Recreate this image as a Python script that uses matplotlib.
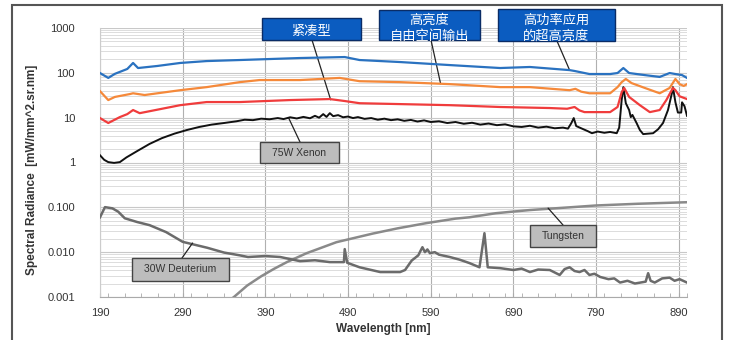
import numpy as np
import matplotlib
matplotlib.use("Agg")
import matplotlib.pyplot as plt
from matplotlib.patches import Rectangle
from matplotlib.ticker import LogLocator, MultipleLocator, NullFormatter

plt.rcParams['font.family'] = ['Liberation Sans', 'Noto Sans CJK SC', 'DejaVu Sans']

# ---- data (wavelength nm, radiance mW/mm^2.sr.nm) ----
wl_blue = [190, 200, 208, 223, 230, 236, 259, 287, 319, 359, 432, 486, 504, 553, 613, 674,
           710, 758, 764, 782, 807, 816, 823, 830, 849, 867, 879, 886, 894, 900]
v_blue = [99, 77, 95, 122, 166, 128, 142, 166, 183, 193, 214, 225, 193, 174, 149, 128,
          135, 115, 110, 94, 94, 99, 128, 99, 89, 81, 99, 94, 89, 77]

wl_orange = [190, 200, 208, 226, 230, 244, 287, 319, 359, 383, 432, 480, 504, 553, 613, 674,
             710, 758, 765, 772, 782, 807, 816, 821, 826, 833, 849, 867, 879, 886, 891, 896, 900]
v_orange = [39, 24.7, 29, 33.6, 35, 32, 41, 48, 62, 69, 69, 77, 65, 62, 56, 48,
            48, 41, 44, 38, 35, 35, 48, 62, 73, 59, 46, 35, 46, 73, 56, 51, 56]

wl_red = [190, 200, 214, 223, 230, 238, 287, 319, 359, 420, 468, 486, 504, 613, 674, 734,
          755, 764, 770, 776, 807, 816, 821, 824, 830, 843, 855, 867, 875, 883, 886, 891, 900]
v_red = [9.8, 7.6, 10.3, 12, 14.8, 12.6, 19, 22.3, 22.3, 24.7, 26, 23.5, 21, 19, 17.3, 16.4,
         15.8, 17.3, 14.5, 13.3, 13.3, 17.3, 37, 46, 29, 19, 13.3, 14.8, 24.7, 46, 41, 30, 26]

wl_xenon = [190, 195, 200, 207, 214, 222, 235, 250, 265, 280, 295, 310, 325, 340, 355, 365,
            375, 385, 395, 405, 412, 420, 428, 436, 444, 450, 455, 460, 464, 468, 472, 478,
            484, 490, 496, 502, 510, 518, 526, 534, 542, 550, 558, 566, 574, 582, 590, 600,
            610, 620, 630, 640, 650, 660, 670, 680, 690, 700, 710, 720, 730, 740, 750, 756,
            760, 763, 766, 772, 780, 785, 792, 800, 807, 815, 818, 821, 823, 826, 830, 832,
            834, 839, 843, 847, 853, 859, 865, 871, 877, 882, 883, 886, 889, 893, 894, 897, 900]
v_xenon = [1.45, 1.15, 1.02, 0.98, 1.02, 1.3, 1.8, 2.6, 3.5, 4.4, 5.3, 6.2, 7.0, 7.6, 8.3, 9.0,
           8.8, 9.5, 9.2, 9.8, 9.3, 10.2, 9.6, 10.4, 9.7, 11.0, 10.0, 12.0, 10.4, 12.6, 10.8, 11.4,
           10.2, 10.6, 9.8, 10.3, 9.4, 9.8, 9.0, 9.5, 8.8, 9.2, 8.5, 8.9, 8.2, 8.7, 8.0, 8.3,
           7.6, 8.0, 7.3, 7.7, 7.0, 7.4, 6.8, 7.1, 6.4, 6.2, 6.6, 6.0, 6.3, 5.8, 6.0, 5.7,
           7.5, 9.8, 6.5, 5.8, 5.0, 4.5, 4.9, 4.6, 4.8, 4.5, 6.0, 25, 48, 21, 14.8, 10.3,
           11.5, 7.6, 5.3, 4.3, 4.4, 4.5, 5.5, 7.6, 14.8, 37, 48, 22, 13, 13, 22, 18, 11]

wl_deut = [190, 196, 205, 212, 220, 235, 250, 270, 290, 320, 340, 359, 369, 390, 408, 432,
           450, 468, 485, 486, 489, 504, 529, 553, 559, 567, 575, 578, 580, 583, 586, 589,
           595, 600, 613, 625, 637, 649, 655, 659, 674, 690, 700, 710, 720, 734, 746, 752,
           758, 764, 770, 776, 782, 788, 795, 805, 812, 819, 828, 837, 850, 853, 856, 861,
           870, 879, 885, 891, 900]
v_deut = [0.06, 0.101, 0.095, 0.08, 0.057, 0.047, 0.040, 0.028, 0.017, 0.0125, 0.0098, 0.0085,
          0.0078, 0.0082, 0.0078, 0.0063, 0.0066, 0.006, 0.006, 0.0117, 0.0058, 0.0046, 0.0036,
          0.0036, 0.004, 0.0065, 0.0085, 0.011, 0.0129, 0.010, 0.0115, 0.0095, 0.010, 0.0088,
          0.0078, 0.0068, 0.0057, 0.0046, 0.0265, 0.0046, 0.0044, 0.0040, 0.0043, 0.0036,
          0.0041, 0.004, 0.0031, 0.0042, 0.0046, 0.0038, 0.0036, 0.0040, 0.0031, 0.0033,
          0.0028, 0.0025, 0.0026, 0.0021, 0.0023, 0.002, 0.0022, 0.0034, 0.0023, 0.0021,
          0.0026, 0.0027, 0.0023, 0.0025, 0.0021]

wl_tung = [345, 352, 368, 385, 400, 416, 440, 476, 520, 550, 585, 620, 637, 669, 710, 758,
           790, 840, 900]
v_tung = [0.0008, 0.001, 0.0018, 0.0029, 0.0042, 0.006, 0.0095, 0.0167, 0.026, 0.034, 0.0445,
          0.056, 0.060, 0.074, 0.087, 0.10, 0.11, 0.12, 0.13]

ytick_vals = [1e-3, 1e-2, 1e-1, 1, 10, 100, 1000]
ytick_labels = ['0.001', '0.010', '0.100', '1', '10', '100', '1000']
xtick_vals = [190, 290, 390, 490, 590, 690, 790, 890]

W, H = 729, 340
fig = plt.figure(figsize=(W / 100, H / 100), dpi=100)
ax = fig.add_axes([100 / W, 1 - 297 / H, 587 / W, 269 / H])

ax.plot(wl_tung, v_tung, color='#8a8a8a', lw=1.8, zorder=3)
ax.plot(wl_deut, v_deut, color='#6b6b6b', lw=1.8, zorder=3)
ax.plot(wl_xenon, v_xenon, color='#111111', lw=1.4, zorder=4)
ax.plot(wl_red, v_red, color='#f03c3c', lw=1.6, zorder=4)
ax.plot(wl_orange, v_orange, color='#f5893a', lw=1.6, zorder=4)
ax.plot(wl_blue, v_blue, color='#2a72c0', lw=1.6, zorder=4)

ax.set_yscale('log')
ax.set_ylim(1e-3, 1e3)
ax.set_xlim(190, 900)
ax.set_yticks(ytick_vals)
ax.set_yticklabels(ytick_labels)
ax.yaxis.set_minor_locator(LogLocator(base=10, subs=np.arange(2, 10)))
ax.yaxis.set_minor_formatter(NullFormatter())
ax.set_xticks(xtick_vals)
ax.xaxis.set_minor_locator(MultipleLocator(20))
ax.tick_params(axis='y', which='both', length=0, pad=18, labelsize=8, labelcolor='#333333')
ax.tick_params(axis='x', which='both', direction='in', length=3, color='#aaaaaa',
               pad=8, labelsize=8, labelcolor='#333333')

ax.grid(True, axis='y', which='minor', color='#dcdcdc', lw=0.7)
ax.grid(True, axis='y', which='major', color='#c8c8c8', lw=0.8)
ax.grid(True, axis='x', which='major', color='#b0b0b0', lw=0.8)
ax.set_axisbelow(True)
for s in ['top', 'right']:
    ax.spines[s].set_visible(False)
ax.spines['left'].set_color('#cccccc')
ax.spines['bottom'].set_color('#aaaaaa')

ax.set_ylabel('Spectral Radiance  [mW/mm^2.sr.nm]', fontsize=8.5, fontweight='bold',
              color='#333333', labelpad=8)
ax.yaxis.set_label_coords(38 / W, 0.5, transform=fig.transFigure)
fig.text(383 / W, 1 - 329 / H, 'Wavelength [nm]', fontsize=8.5, fontweight='bold',
         color='#333333', ha='center', va='center')

# outer frame
fig.add_artist(Rectangle((12 / W, -0.1), 710 / W, 1.1 - 5 / H, transform=fig.transFigure,
                         fill=False, edgecolor='#555555', lw=1.5))


def label_box(x0, y0, x1, y1, text, target, face, edge, tcolor, fs, anchor, family, dy=0):
    # box in figure pixels (y from top), leader line to a point on a curve
    fig.add_artist(Rectangle((x0 / W, 1 - y1 / H), (x1 - x0) / W, (y1 - y0) / H,
                             transform=fig.transFigure, facecolor=face, edgecolor=edge,
                             lw=1.0, zorder=6))
    fig.text((x0 + x1) / 2 / W, 1 - ((y0 + y1) / 2 + dy) / H, text, color=tcolor, fontsize=fs,
             ha='center', va='center', linespacing=1.3, zorder=7, family=family)
    ax.annotate('', xy=target, xycoords='data', xytext=(anchor[0] / W, 1 - anchor[1] / H),
                textcoords='figure fraction', annotation_clip=False,
                arrowprops=dict(arrowstyle='-', lw=0.9, color='#222222', shrinkA=0, shrinkB=0))


cjk = ['Noto Sans CJK SC', 'DejaVu Sans']
latin = ['Liberation Sans', 'DejaVu Sans']
blue_face, blue_edge = '#0b5cc0', '#0a2c66'
grey_face, grey_edge = '#bdbdbd', '#444444'
label_box(262, 18, 361, 40, '紧凑型', (469, 25), blue_face, blue_edge, 'white', 9.5, (312, 40), cjk, 2)
label_box(379, 10, 480, 40, '高亮度\n自由空间输出', (602, 57), blue_face, blue_edge, 'white', 9.5, (431, 40), cjk, 3)
label_box(498, 9, 615, 41, '高功率应用\n的超高亮度', (758, 115), blue_face, blue_edge, 'white', 9.5, (557, 41), cjk, 3)
label_box(260, 142, 339, 163, '75W Xenon', (418, 10), grey_face, grey_edge, '#333333', 7.5, (300, 142), latin)
label_box(132, 258, 229, 281, '30W Deuterium', (302, 0.016), grey_face, grey_edge, '#333333', 7.5, (182, 258), latin)
label_box(530, 225, 596, 247, 'Tungsten', (732, 0.096), grey_face, grey_edge, '#333333', 7.5, (563, 225), latin)

fig.savefig('out.png', dpi=100)
